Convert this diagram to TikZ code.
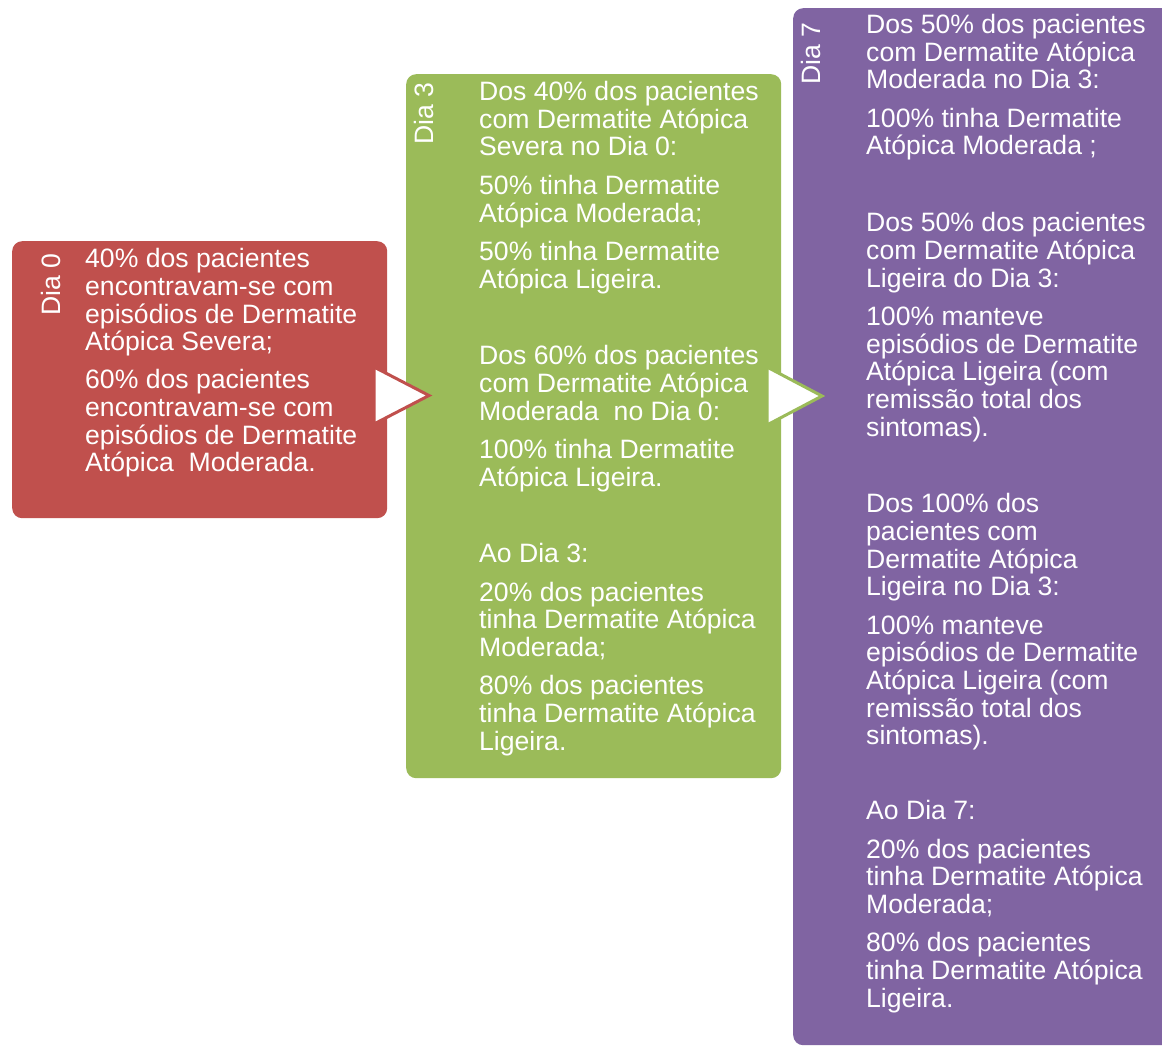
\documentclass[tikz,border=0pt]{standalone}
\usepackage{fontspec}
\setmainfont{Liberation Sans}
\definecolor{dred}{HTML}{C0504D}
\definecolor{dgreen}{HTML}{9BBB59}
\definecolor{dpurple}{HTML}{8064A2}
\begin{document}
\begin{tikzpicture}[x=1pt,y=-1pt,
  box/.style={rectangle, rounded corners=10pt, draw=none, inner sep=0pt, anchor=north west},
  txt/.style={anchor=base west, inner sep=0pt, text=white, font=\fontsize{26.6}{27.7}\selectfont},
  dialbl/.style={anchor=base east, inner sep=0pt, text=white, rotate=90, font=\fontsize{26.6}{27.7}\selectfont},
  arrowtri/.style={fill=white, line width=3pt, line join=miter}]
\useasboundingbox (0,0) rectangle (1162,1046);
\fill[white] (0,0) rectangle (1162,1046);
% boxes
\node[box, fill=dred, minimum width=375pt, minimum height=277pt] (d0) at (12,241) {};
\node[box, fill=dgreen, minimum width=375pt, minimum height=704pt] (d3) at (406,74) {};
\node[box, fill=dpurple, minimum width=390pt, minimum height=1037pt] (d7) at (793,8) {};
% arrows
\draw[arrowtri, draw=dred] (374,367) -- (429,395.5) -- (374,424) -- cycle;
\draw[arrowtri, draw=dgreen] (767,367) -- (822,396) -- (767,425) -- cycle;
% vertical labels
\node[dialbl] (l0) at (60,253) {Dia 0};
\node[dialbl] (l3) at (433,82) {Dia 3};
\node[dialbl] (l7) at (820,22) {Dia 7};
% red texts
\foreach \ty/\tl [count=\i] in {
 267.7/{40\% dos pacientes},
 295.4/{encontravam-se com},
 323/{episódios de Dermatite},
 350.7/{Atópica Severa;},
 388.7/{60\% dos pacientes},
 416.3/{encontravam-se com},
 444/{episódios de Dermatite},
 471.6/{Atópica~~Moderada.}}
 {\node[txt] (r\i) at (85,\ty) {\tl};}
% green texts
\foreach \ty/\tl [count=\i] in {
 100.7/{Dos 40\% dos pacientes},
 128.4/{com Dermatite Atópica},
 156/{Severa no Dia 0:},
 194.3/{50\% tinha Dermatite},
 222/{Atópica Moderada;},
 260.3/{50\% tinha Dermatite},
 288/{Atópica Ligeira.},
 364.7/{Dos 60\% dos pacientes},
 392.4/{com Dermatite Atópica},
 420/{Moderada~~no Dia 0:},
 458.3/{100\% tinha Dermatite},
 486/{Atópica Ligeira.},
 562.7/{Ao Dia 3:},
 601/{20\% dos pacientes},
 628.7/{tinha Dermatite Atópica},
 656.3/{Moderada;},
 694.6/{80\% dos pacientes},
 722.3/{tinha Dermatite Atópica},
 750/{Ligeira.}}
 {\node[txt] (g\i) at (479,\ty) {\tl};}
% purple texts
\foreach \ty/\tl [count=\i] in {
 33.7/{Dos 50\% dos pacientes},
 61.4/{com Dermatite Atópica},
 89/{Moderada no Dia 3:},
 127.3/{100\% tinha Dermatite},
 155/{Atópica Moderada ;},
 231.7/{Dos 50\% dos pacientes},
 259.4/{com Dermatite Atópica},
 287/{Ligeira do Dia 3:},
 325.3/{100\% manteve},
 353/{episódios de Dermatite},
 380.7/{Atópica Ligeira (com},
 408.3/{remissão total dos},
 436/{sintomas).},
 512.7/{Dos 100\% dos},
 540.4/{pacientes com},
 568/{Dermatite Atópica},
 595.7/{Ligeira no Dia 3:},
 634/{100\% manteve},
 661.7/{episódios de Dermatite},
 689.3/{Atópica Ligeira (com},
 717/{remissão total dos},
 744.7/{sintomas).},
 819.7/{Ao Dia 7:},
 858/{20\% dos pacientes},
 885.7/{tinha Dermatite Atópica},
 913.3/{Moderada;},
 951.6/{80\% dos pacientes},
 979.3/{tinha Dermatite Atópica},
 1007/{Ligeira.}}
 {\node[txt] (p\i) at (866,\ty) {\tl};}
\end{tikzpicture}
\end{document}
